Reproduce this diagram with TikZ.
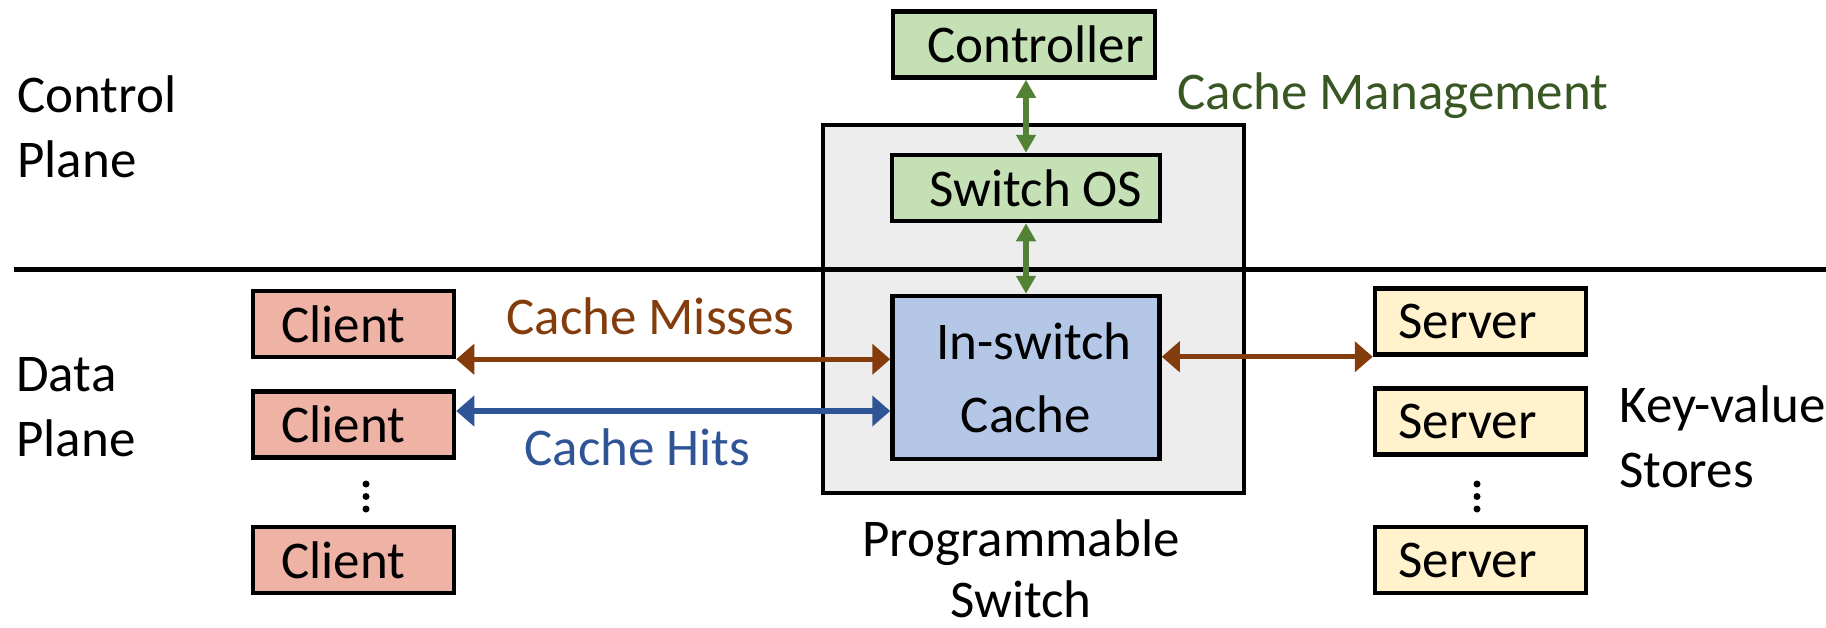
\documentclass[tikz,border=0pt]{standalone}
\usepackage{fontspec}
\setmainfont{Carlito}
\usetikzlibrary{arrows.meta}
\definecolor{ctrlfill}{HTML}{C5E0B4}
\definecolor{cachefill}{HTML}{B4C7E7}
\definecolor{greyfill}{HTML}{EDEDED}
\definecolor{clientfill}{HTML}{EEB3A5}
\definecolor{serverfill}{HTML}{FFF2CC}
\definecolor{brownc}{HTML}{843C0C}
\definecolor{bluec}{HTML}{2F5597}
\definecolor{greenc}{HTML}{548235}
\definecolor{dgreen}{HTML}{385723}
\tikzset{
  base/.style={font=\fontsize{26.5}{32.5}\selectfont, inner sep=0pt},
  boxstyle/.style={base, draw=black, line width=2.25pt, rectangle},
  ctrlbox/.style={boxstyle, fill=ctrlfill, minimum width=131pt, minimum height=33pt},
  cachebox/.style={boxstyle, fill=cachefill, minimum width=133.5pt, minimum height=81.5pt, align=center},
  switchbox/.style={draw=black, line width=2.25pt, fill=greyfill, minimum width=210.5pt, minimum height=184pt, inner sep=0pt},
  clientbox/.style={boxstyle, fill=clientfill, minimum width=100.5pt, minimum height=33pt},
  serverbox/.style={boxstyle, fill=serverfill, minimum width=105.5pt, minimum height=33pt},
  lbl/.style={base, align=left, anchor=west},
  bigarrow/.style={line width=2.6pt, {Triangle[width=15pt,length=9pt]}-{Triangle[width=15pt,length=9pt]}},
  smallarrow/.style={line width=2.6pt, greenc, {Triangle[width=9.5pt,length=9pt]}-{Triangle[width=9.5pt,length=9pt]}},
  dotmark/.style={fill=black, circle, inner sep=0pt, minimum size=3.5pt}
}
\begin{document}
\begin{tikzpicture}[x=0.5pt,y=-0.5pt]
\useasboundingbox (0,0) rectangle (1826,627);
% programmable switch
\node[switchbox] (sw) at (1033.5,309) {};
% plane divider
\coordinate (divL) at (14,269);
\coordinate (divR) at (1826,269);
\draw[line width=2.5pt] (divL) -- (divR);
% control plane boxes
\node[ctrlbox] (ctrl) at (1024,44.5) {\hspace*{11.5pt}Controller};
\node[ctrlbox, minimum width=134pt] (swos) at (1026,188) {\hspace*{10pt}Switch OS};
\node[cachebox] (cache) at (1026,377.5) {\hspace*{8pt}In-switch\\[4pt]Cache};
% clients
\node[clientbox] (c1) at (353.5,324) {\hspace*{-10pt}Client};
\node[clientbox] (c2) at (353.5,424.5) {\hspace*{-10pt}Client};
\node[clientbox] (c3) at (353.5,560) {\hspace*{-10pt}Client};
% servers
\node[serverbox] (s1) at (1480.5,321.5) {\hspace*{-13pt}Server};
\node[serverbox] (s2) at (1480.5,421.5) {\hspace*{-13pt}Server};
\node[serverbox] (s3) at (1480.5,560) {\hspace*{-13pt}Server};
% ellipses
\node[dotmark] (cd1) at (366,484) {};
\node[dotmark] (cd2) at (366,496.5) {};
\node[dotmark] (cd3) at (366,509) {};
\node[dotmark] (sd1) at (1477,484) {};
\node[dotmark] (sd2) at (1477,496.5) {};
\node[dotmark] (sd3) at (1477,509) {};
% arrows
\coordinate (hitL) at ([yshift=6.75pt]c2.east);
\draw[smallarrow] (swos.north |- ctrl.south) -- (swos.north);
\draw[smallarrow] (swos.south) -- (cache.north);
\draw[bigarrow, brownc] (c1.south east) -- (cache.west |- c1.south east);
\draw[bigarrow, bluec] (hitL) -- (cache.west |- hitL);
\draw[bigarrow, brownc] (cache.east |- s1.south west) -- (s1.south west);
% labels
\node[lbl] (cp) at (17,127) {Control\\Plane};
\node[lbl] (dp) at (16,407) {Data\\Plane};
\node[base, anchor=base west, text=dgreen] (cm) at (1177,109) {Cache Management};
\node[base, anchor=base west, text=brownc] (miss) at (506,334) {Cache Misses};
\node[base, anchor=base west, text=bluec] (hits) at (524,465) {Cache Hits};
\node[base, align=center] (psw) at (1021,569) {Programmable\\[-2pt]Switch};
\node[lbl] (kv) at (1619,437) {Key-value\\Stores};
\end{tikzpicture}
\end{document}
